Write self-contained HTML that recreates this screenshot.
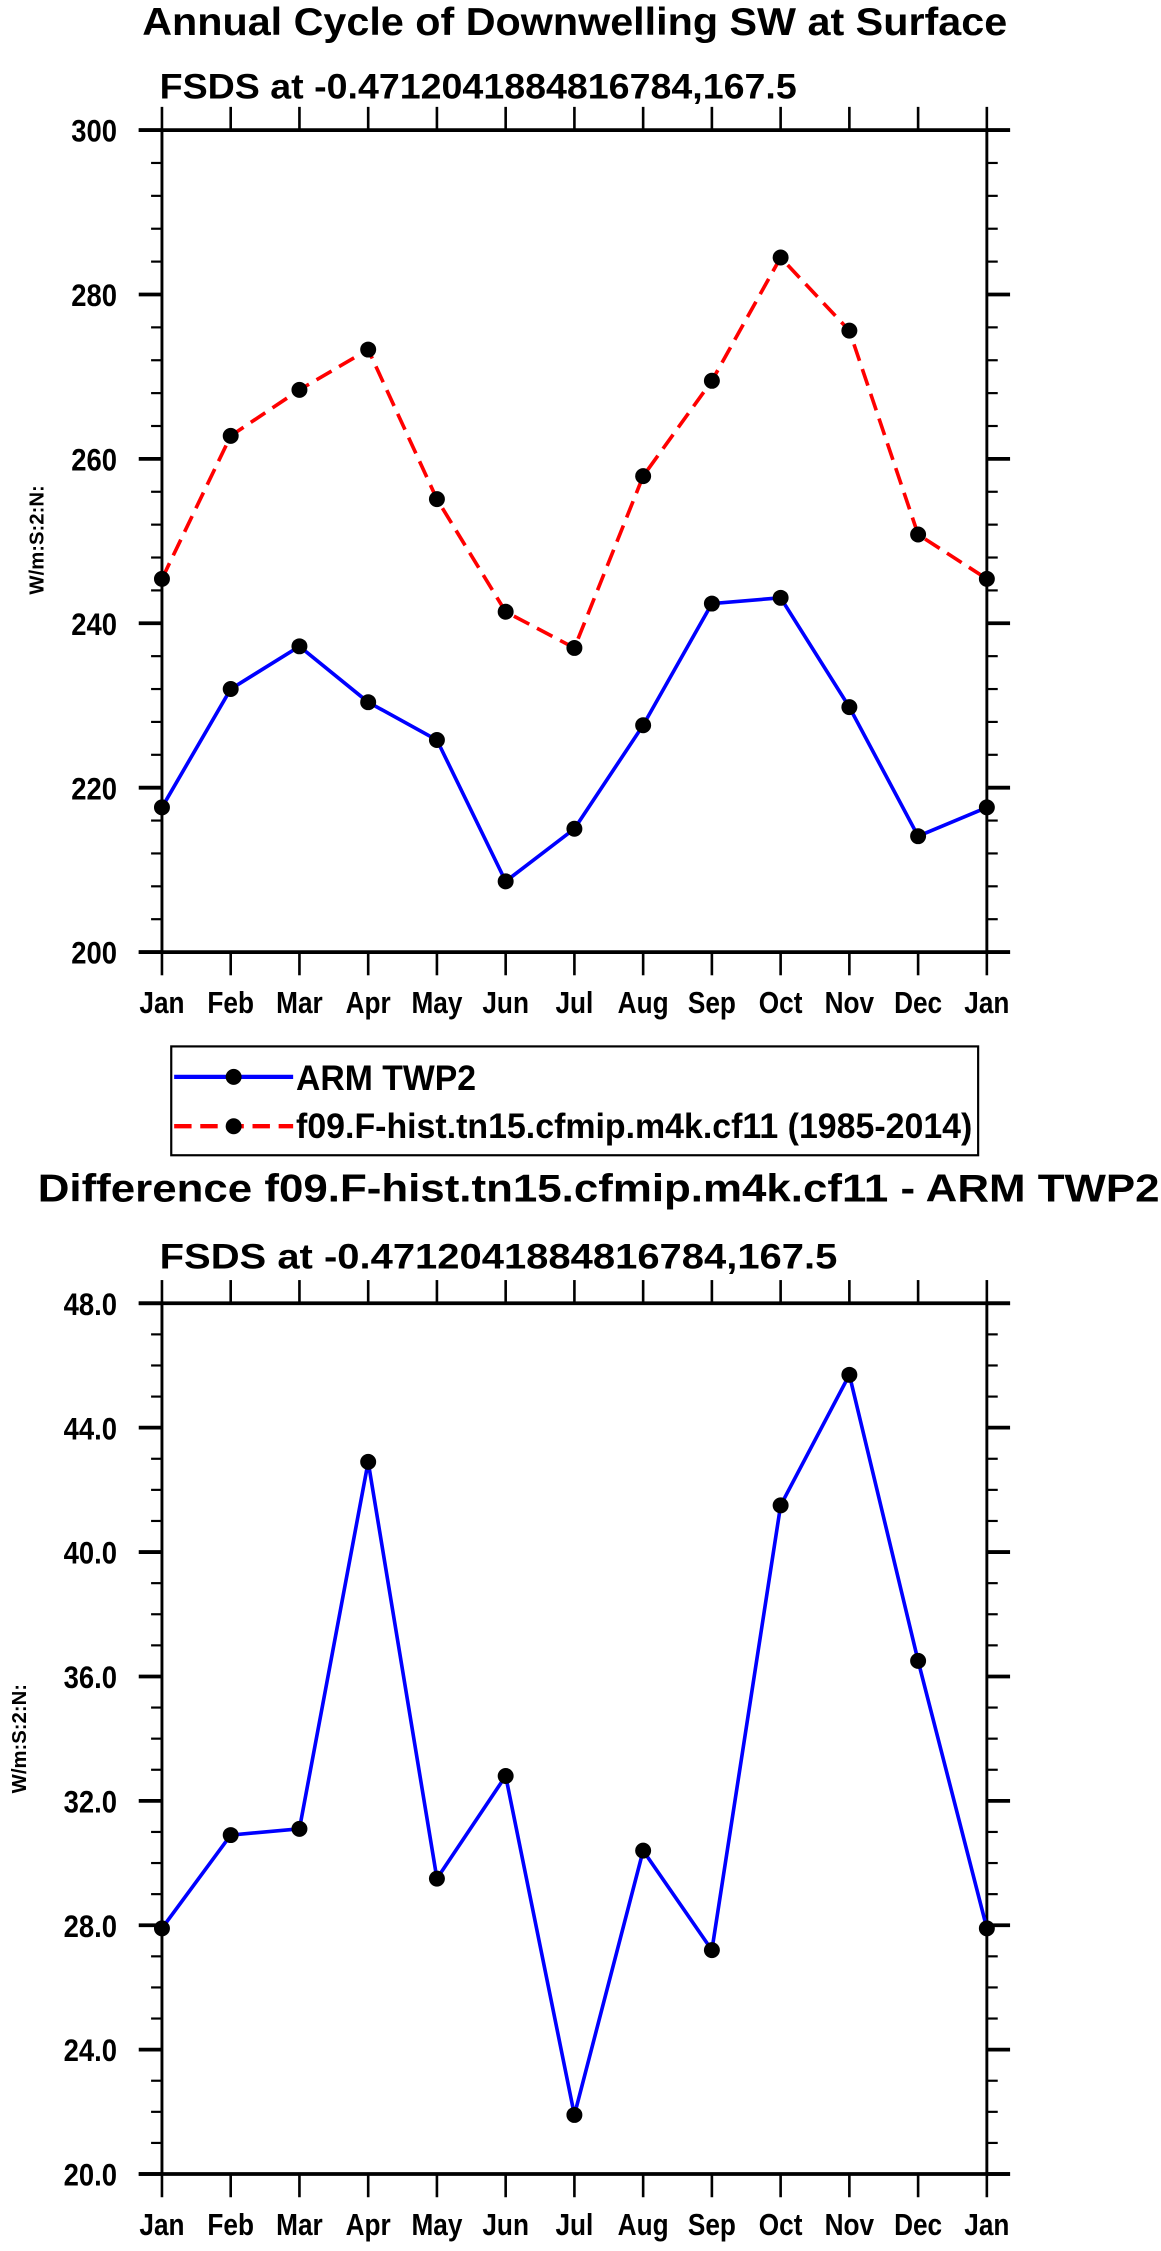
<!DOCTYPE html>
<html><head><meta charset="utf-8"><style>
html,body{margin:0;padding:0;background:#fff}
svg{display:block}
text{font-family:"Liberation Sans",sans-serif;font-weight:bold;fill:#000}
</style></head><body>
<svg id="fig" width="1161" height="2251" viewBox="0 0 800 1551" xmlns="http://www.w3.org/2000/svg">
<text x="98" y="24" font-size="27" textLength="596" lengthAdjust="spacingAndGlyphs">Annual Cycle of Downwelling SW at Surface</text>
<text x="110" y="68" font-size="24" textLength="439" lengthAdjust="spacingAndGlyphs">FSDS at -0.4712041884816784,167.5</text>
<text transform="translate(30,372) rotate(-90)" text-anchor="middle" font-size="14">W/m:S:2:N:</text>
<g id="top"></g>
<g>
<rect x="118" y="721" width="556" height="75" fill="none" stroke="#000" stroke-width="1.5"/>
<line x1="120" y1="742" x2="202" y2="742" stroke="#0000ff" stroke-width="3"/>
<circle cx="161" cy="742" r="5.5" fill="#000"/>
<text x="204" y="751" font-size="24" textLength="124" lengthAdjust="spacingAndGlyphs">ARM TWP2</text>
<line x1="120" y1="776" x2="202" y2="776" stroke="#ff0000" stroke-width="3" stroke-dasharray="12,6"/>
<circle cx="161" cy="776" r="5.5" fill="#000"/>
<text x="204" y="784" font-size="24" textLength="466" lengthAdjust="spacingAndGlyphs">f09.F-hist.tn15.cfmip.m4k.cf11 (1985-2014)</text>
</g>
<text x="26" y="828" font-size="27" textLength="773" lengthAdjust="spacingAndGlyphs">Difference f09.F-hist.tn15.cfmip.m4k.cf11 - ARM TWP2</text>
<text x="110" y="874" font-size="24" textLength="467" lengthAdjust="spacingAndGlyphs">FSDS at -0.4712041884816784,167.5</text>
<text transform="translate(18,1198) rotate(-90)" text-anchor="middle" font-size="14">W/m:S:2:N:</text>
<g id="bot"></g>
</svg>
<script>
const months = ["Jan","Feb","Mar","Apr","May","Jun","Jul","Aug","Sep","Oct","Nov","Dec","Jan"];
const armValues = [217.6,232.0,237.2,230.4,225.8,208.6,215.0,227.6,242.4,243.1,229.8,214.1,217.6];
const modelValues = [245.4,262.8,268.4,273.3,255.1,241.4,237.0,257.9,269.5,284.5,275.6,250.8,245.4];
const diffValues = [27.9,30.9,31.1,42.9,29.5,32.8,21.9,30.4,27.2,41.5,45.7,36.5,27.9];
const topTicks = ["200","220","240","260","280","300"];
const botTicks = ["20.0","24.0","28.0","32.0","36.0","40.0","44.0","48.0"];
const NS="http://www.w3.org/2000/svg";
function mk(parent,tag,attrs){const e=document.createElementNS(NS,tag);for(const k in attrs)e.setAttribute(k,attrs[k]);parent.appendChild(e);return e;}
function condense(t){const w=t.getComputedTextLength();t.setAttribute('textLength',(w*0.86).toFixed(1));t.setAttribute('lengthAdjust','spacingAndGlyphs');}
function drawPlot(g,L,R,T,B,ymin,ymax,minor,ticks,series){
  const xs=i=>L+(R-L)*i/12;
  const ys=v=>B-(v-ymin)/(ymax-ymin)*(B-T);
  const box=mk(g,'rect',{x:L,y:T,width:R-L,height:B-T,fill:'none',stroke:'#000','stroke-width':2});
  
  
  for(let i=0;i<=12;i++){
    const x=xs(i);
    mk(g,'line',{x1:x,y1:T,x2:x,y2:T-16,stroke:'#000','stroke-width':1.8});
    mk(g,'line',{x1:x,y1:B,x2:x,y2:B+16,stroke:'#000','stroke-width':1.8});
    const t=mk(g,'text',{x:x,y:B+42,'text-anchor':'middle','font-size':21});
    t.textContent=months[i];
    
    
    condense(t);
  }
  for(let v=ymin;v<=ymax+1e-9;v+=minor){
    const y=ys(v);
    mk(g,'line',{x1:L,y1:y,x2:L-7.5,y2:y,stroke:'#000','stroke-width':1.5});
    mk(g,'line',{x1:R,y1:y,x2:R+7.5,y2:y,stroke:'#000','stroke-width':1.5});
  }
  ticks.forEach(lbl=>{
    const v=parseFloat(lbl),y=ys(v);
    mk(g,'line',{x1:L-16,y1:y,x2:L,y2:y,stroke:'#000','stroke-width':2.6});
    mk(g,'line',{x1:R,y1:y,x2:R+16,y2:y,stroke:'#000','stroke-width':2.6});
    const t=mk(g,'text',{x:L-31,y:y+8,'text-anchor':'end','font-size':22});
    t.textContent=lbl;
    
    
    condense(t);
  });
  mk(g,'line',{x1:L-16,y1:T,x2:R+16,y2:T,stroke:'#000','stroke-width':2.6});
  mk(g,'line',{x1:L-16,y1:B,x2:R+16,y2:B,stroke:'#000','stroke-width':2.6});
  series.forEach(s=>{
    const pts=s.vals.map((v,i)=>xs(i)+','+ys(v)).join(' ');
    const pl=mk(g,'polyline',{points:pts,fill:'none',stroke:s.color,'stroke-width':2.5,'stroke-dasharray':s.dash||'none'});
    
    
    s.vals.forEach((v,i)=>{
      const c=mk(g,'circle',{cx:xs(i),cy:ys(v),r:5.5,fill:'#000'});
      
      
    });
  });
}
drawPlot(document.getElementById('top'),111.6,680,89.6,656,200,300,4,topTicks,
  [{vals:armValues,color:'#0000ff',name:'arm'},{vals:modelValues,color:'#ff0000',dash:'12,6',name:'model'}]);
drawPlot(document.getElementById('bot'),111.6,680,898,1498,20,48,1,botTicks,
  [{vals:diffValues,color:'#0000ff',name:'difference'}]);
</script>
</body></html>
